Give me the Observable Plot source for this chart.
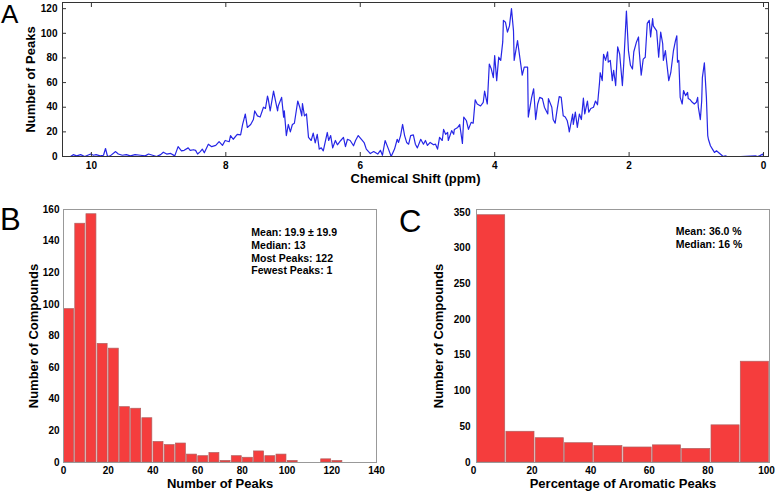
<!DOCTYPE html>
<html><head><meta charset="utf-8">
<script src="https://cdn.jsdelivr.net/npm/d3@7"></script>
<script src="https://cdn.jsdelivr.net/npm/@observablehq/plot@0.6"></script>
<style>
html,body{margin:0;padding:0;background:#fff;}
#root{position:relative;width:775px;height:494px;overflow:hidden;font-family:"Liberation Sans",Arial,Helvetica,sans-serif;color:#000;}
.panel{position:absolute;}
.letter{position:absolute;line-height:1;font-weight:normal;color:#000;}
</style></head><body><div id="root"></div>
<script>
// ---------- Panel A: chemical shift spectrum ----------
const shiftPpm = [
10.42,10.31,10.27,10.22,10.16,10.10,10.01,9.97,9.93,9.87,
9.82,9.79,9.76,9.72,9.64,9.60,9.54,9.48,9.42,9.35,
9.27,9.20,9.15,9.09,9.03,8.97,8.93,8.88,8.82,8.76,
8.71,8.66,8.62,8.56,8.53,8.48,8.45,8.42,8.38,8.35,
8.32,8.26,8.21,8.15,8.10,8.05,8.01,7.95,7.93,7.89,
7.83,7.78,7.75,7.71,7.68,7.63,7.59,7.57,7.53,7.49,
7.44,7.41,7.38,7.37,7.34,7.29,7.26,7.23,7.22,7.17,
7.14,7.13,7.10,7.07,7.04,7.01,6.98,6.93,6.90,6.87,
6.86,6.83,6.80,6.77,6.73,6.70,6.67,6.64,6.61,6.58,
6.55,6.49,6.47,6.44,6.41,6.37,6.34,6.29,6.25,6.22,
6.19,6.15,6.10,6.07,6.03,5.97,5.94,5.91,5.85,5.80,
5.74,5.70,5.67,5.63,5.58,5.54,5.49,5.45,5.43,5.40,
5.37,5.34,5.31,5.28,5.25,5.21,5.18,5.15,5.10,5.06,
5.03,5.00,4.96,4.91,4.88,4.85,4.82,4.78,4.76,4.73,
4.70,4.69,4.64,4.61,4.60,4.55,4.52,4.48,4.46,4.42,
4.39,4.35,4.32,4.29,4.26,4.21,4.17,4.15,4.11,4.08,
4.05,4.02,4.00,3.97,3.94,3.91,3.88,3.87,3.84,3.81,
3.78,3.75,3.72,3.71,3.66,3.65,3.62,3.59,3.56,3.51,
3.50,3.45,3.42,3.39,3.36,3.33,3.29,3.26,3.21,3.20,
3.15,3.13,3.10,3.07,3.04,3.01,2.98,2.95,2.92,2.90,
2.89,2.84,2.83,2.80,2.77,2.74,2.71,2.68,2.66,2.62,
2.60,2.57,2.53,2.50,2.47,2.44,2.43,2.40,2.38,2.35,
2.32,2.31,2.28,2.25,2.23,2.20,2.17,2.14,2.10,2.08,
2.04,2.01,1.98,1.95,1.93,1.89,1.86,1.85,1.82,1.79,
1.76,1.73,1.70,1.68,1.65,1.64,1.59,1.56,1.53,1.50,
1.49,1.46,1.41,1.38,1.34,1.31,1.29,1.28,1.26,1.24,
1.21,1.19,1.16,1.13,1.12,1.09,1.06,1.03,1.00,0.98,
0.97,0.94,0.92,0.91,0.88,0.85,0.83,0.82,0.79,0.76,
0.73,0.70,0.67,0.63,0.60,0.57,0.54,0.34,0.12,0.09,
0.06,0.01,0.00,-0.06
];
const peakCount = [
0,0,1.5,0.5,1.5,0,2,1,1.5,0.5,
1,6.5,0,0.5,4,2,1,1.5,0.5,1.5,
1,0.5,2,1,0,1.5,3.5,2,2.5,0.5,
8,4.5,5,7,5,5.5,5,2,4,6,
3,10,8,9,12,9,13,12,17,14,
18,17.6,26,34.5,23.6,26,30,37,33,32,
40,39,49,47,37,53,45,37,41,48,
32,37,17,26,20,26,27,45,40,33,
43,33,34.5,15.5,13,19,11,18,6,7,
4.6,19.5,13,17,7,13,9.5,13,15.5,8,
14,13,8.7,13,17,13,11,6,2.4,4,
2,5,1,13,6,0,6,14,11.4,17,
26,17,11.4,10,17,17.6,10,7,14,10,
13,9,11.4,9.5,10,6,15.5,13,22,18,
19.5,13,21,18,22,23.6,26,10.6,32,29,
22,27.7,27,46,42.6,41,44,53,42.6,75,
71,64,82,61.6,80.6,78,93,110.5,109,101,
106,120,102,78,94,90,78,66,72.5,72.5,
32,48,55,30,42.6,48,47,40,34.5,47,
40,30,27,38.5,48.6,48,33,32,29,23.6,
20,34.5,26,36,23.6,34.5,30,47.5,34.5,45,
36,39,40,45,42,60,68,61.6,83,78,
85,76.6,78,61.6,70,57.6,89,83,57.6,75,
118,86,74,71,85,93,97,86,66,79,
80.6,108,110.5,97,112,106,102,80.6,101,91.5,
78,86,61.6,68,86,94,98,76.6,78,48,
42.6,53.5,49.4,52,47,46,44,42.6,44,48,
40,30,45,64,76,48,17,14,8.7,6,
3.3,4.6,3.3,1.4,0,0.5,0,0,0.5,0,
0.5,2,0,0
];
const spectrumXTicks = [10, 8, 6, 4, 2, 0];
const spectrumYTicks = [0, 20, 40, 60, 80, 100, 120];

// ---------- Panel B: number of peaks per compound ----------
const peakBinStart = [0,5,10,15,20,25,30,35,40,45,50,55,60,65,70,75,80,85,90,95,100,105,110,115,120];
const compoundsPerPeakBin = [97,151,157,75,72,35,34,28,13,11,12,5,4,6,1,4,3,7,4,5,1,0,0,2,1];
const peakBinWidth = 5;
const peakXTicks = [0,20,40,60,80,100,120,140];
const peakYTicks = [0,20,40,60,80,100,120,140,160];
const peakStats = ["Mean: 19.9 \u00b1 19.9", "Median: 13", "Most Peaks: 122", "Fewest Peaks: 1"];

// ---------- Panel C: percentage of aromatic peaks ----------
const aromaticBinStart = [0,10,20,30,40,50,60,70,80,90];
const compoundsPerAromaticBin = [346,43,34,27,23,21,24,19,52,141];
const aromaticBinWidth = 10;
const aromaticXTicks = [0,20,40,60,80,100];
const aromaticYTicks = [0,50,100,150,200,250,300,350];
const aromaticStats = ["Mean: 36.0 %", "Median: 16 %"];

// ---------- shared styling ----------
const FONT = '"Liberation Sans", Arial, Helvetica, sans-serif';
const baseStyle = {fontFamily: FONT, fontSize: "10px", fontWeight: "bold", background: "transparent", overflow: "visible", color: "#000"};
const barFill = "#f53d3d";
const barStroke = "#b06060";
const empty = () => "";

const root = document.getElementById("root");
function place(node, left, top) {
  node.classList.add("panel");
  node.style.left = left + "px";
  node.style.top = top + "px";
  root.appendChild(node);
}
function letter(txt, left, top, size) {
  const d = document.createElement("div");
  d.className = "letter";
  d.textContent = txt;
  d.style.left = left + "px";
  d.style.top = top + "px";
  d.style.fontSize = size + "px";
  root.appendChild(d);
}

// Panel A
const spectrum = shiftPpm.map((s, i) => ({shift: s, count: peakCount[i]}));
const plotA = Plot.plot({
  width: 775, height: 200,
  marginLeft: 62, marginRight: 7, marginTop: 2, marginBottom: 44,
  style: baseStyle,
  x: {domain: [10.43, -0.074]},
  y: {domain: [0, 125]},
  marks: [
    Plot.line(spectrum, {x: "shift", y: "count", stroke: "#2626e6", strokeWidth: 1.2}),
    Plot.frame({stroke: "#333", strokeWidth: 1}),
    Plot.axisY(spectrumYTicks, {anchor: "left", tickSize: 0, tickPadding: 5, label: null}),
    Plot.axisY(spectrumYTicks, {anchor: "left", tickSize: -4, tickFormat: empty, label: null, stroke: "#333"}),
    Plot.axisY(spectrumYTicks, {anchor: "right", tickSize: -4, tickFormat: empty, label: null, stroke: "#333"}),
    Plot.axisX(spectrumXTicks, {anchor: "bottom", tickSize: 0, tickPadding: 5, label: null}),
    Plot.axisX(spectrumXTicks, {anchor: "top", tickSize: -4, tickFormat: empty, label: null, stroke: "#333"}),
    Plot.axisX(spectrumXTicks, {anchor: "bottom", tickSize: -4, tickFormat: empty, label: null, stroke: "#333"}),
    Plot.text(["Chemical Shift (ppm)"], {frameAnchor: "bottom", dy: 26, textAnchor: "middle", fontSize: 13, fontWeight: "bold"}),
    Plot.text(["Number of Peaks"], {frameAnchor: "left", dx: -32, rotate: -90, textAnchor: "middle", fontSize: 13, fontWeight: "bold"})
  ]
});
place(plotA, 0, 0);

// Panel B
const peakBars = peakBinStart.map((x, i) => ({x1: x, x2: x + peakBinWidth, n: compoundsPerPeakBin[i]}));
const plotB = Plot.plot({
  width: 390, height: 299,
  marginLeft: 63, marginRight: 14, marginTop: 14, marginBottom: 32,
  style: baseStyle,
  x: {domain: [0, 140]},
  y: {domain: [0, 160]},
  marks: [
    Plot.rectY(peakBars, {x1: "x1", x2: "x2", y: "n", fill: barFill, stroke: barStroke, strokeWidth: 0.7, insetLeft: 0.6, insetRight: 0.6}),
    Plot.frame({stroke: "#999"}),
    Plot.axisY(peakYTicks, {anchor: "left", tickSize: 0, tickPadding: 4, label: null}),
    Plot.axisX(peakXTicks, {anchor: "bottom", tickSize: 0, tickPadding: 4, label: null}),
    Plot.text([peakStats.join("\n")], {x: 84, y: 149, textAnchor: "start", lineAnchor: "top", lineHeight: 1.22, fontSize: 10.5, fontWeight: "bold"}),
    Plot.text(["Number of Peaks"], {frameAnchor: "bottom", dy: 25, textAnchor: "middle", fontSize: 13, fontWeight: "bold"}),
    Plot.text(["Number of Compounds"], {frameAnchor: "left", dx: -30, rotate: -90, textAnchor: "middle", fontSize: 13, fontWeight: "bold"})
  ]
});
place(plotB, 0, 195);

// Panel C
const aromaticBars = aromaticBinStart.map((x, i) => ({x1: x, x2: x + aromaticBinWidth, n: compoundsPerAromaticBin[i]}));
const plotC = Plot.plot({
  width: 385, height: 299,
  marginLeft: 86, marginRight: 6, marginTop: 14, marginBottom: 32,
  style: baseStyle,
  x: {domain: [0, 100]},
  y: {domain: [0, 354]},
  marks: [
    Plot.rectY(aromaticBars, {x1: "x1", x2: "x2", y: "n", fill: barFill, stroke: barStroke, strokeWidth: 0.7, insetLeft: 0.6, insetRight: 0.6}),
    Plot.frame({stroke: "#999"}),
    Plot.axisY(aromaticYTicks, {anchor: "left", tickSize: 0, tickPadding: 6, label: null}),
    Plot.axisX(aromaticXTicks, {anchor: "bottom", tickSize: 0, tickPadding: 4, dx: -3, label: null}),
    Plot.text([aromaticStats.join("\n")], {x: 68, y: 331, textAnchor: "start", lineAnchor: "top", lineHeight: 1.22, fontSize: 10.5, fontWeight: "bold"}),
    Plot.text(["Percentage of Aromatic Peaks"], {frameAnchor: "bottom", dy: 25, textAnchor: "middle", fontSize: 13, fontWeight: "bold"}),
    Plot.text(["Number of Compounds"], {frameAnchor: "left", dx: -38, rotate: -90, textAnchor: "middle", fontSize: 13, fontWeight: "bold"})
  ]
});
place(plotC, 390, 195);

letter("A", 1, 1, 26);
letter("B", 0, 204, 31);
letter("C", 399, 206, 31);
</script>
</body></html>
